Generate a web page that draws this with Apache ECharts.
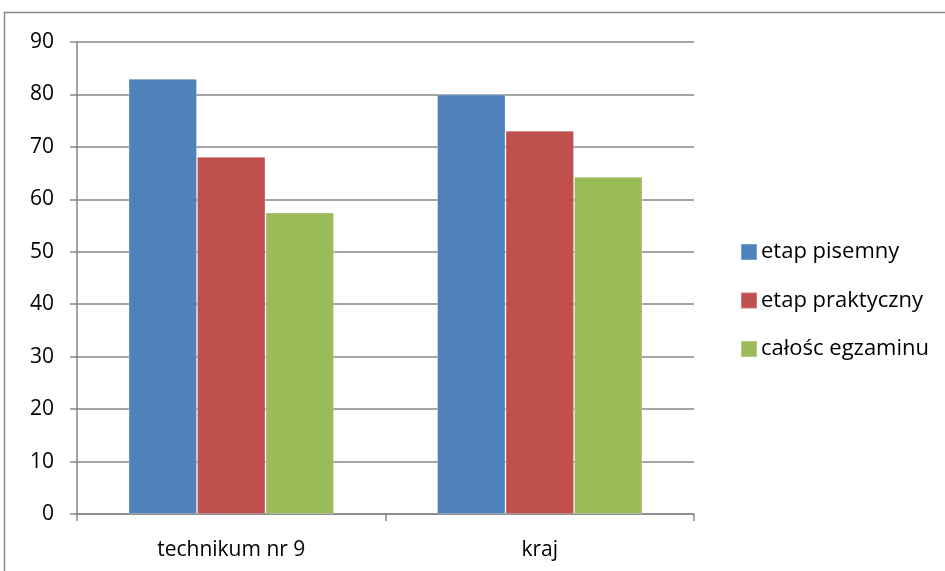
<!DOCTYPE html>
<html><head><meta charset="utf-8">
<script src="https://cdn.jsdelivr.net/npm/echarts@6/dist/echarts.min.js"></script>
<style>html,body{margin:0;padding:0;background:#fff}#c{width:945px;height:571px}</style>
</head><body><div id="c"></div>
<script>
const categories = ['technikum nr 9', 'kraj'];
const seriesNames = ['etap pisemny', 'etap praktyczny', 'całośc egzaminu'];
const pisemny = [83, 80];
const praktyczny = [68.1, 73.1];
const calosc = [57.5, 64.3];
const colors = ['#4F81BD', '#C0504D', '#9BBB59'];
const values = [pisemny, praktyczny, calosc];
const FONT = '"Open Sans", "Noto Sans", sans-serif';

const chart = echarts.init(document.getElementById('c'), null, {renderer: 'canvas'});
chart.setOption({
  animation: false,
  backgroundColor: '#fff',
  graphic: [{type: 'rect', shape: {x: 4.5, y: 12.5, width: 1000, height: 700}, style: {fill: 'none', stroke: '#868686', lineWidth: 1.5}, z: -1}],
  grid: {left: 77, right: 251, top: 42, bottom: 57},
  legend: {
    orient: 'vertical', left: 735, top: 236, itemWidth: 16, itemHeight: 16, itemGap: 26.5,
    icon: 'rect',
    textStyle: {fontFamily: FONT, fontSize: 22, color: '#000', padding: [0, 0, 0, -1]},
    data: seriesNames
  },
  xAxis: {
    type: 'category', data: categories,
    axisLine: {lineStyle: {color: '#868686', width: 1.5}},
    axisTick: {show: true, length: 7, lineStyle: {color: '#868686', width: 1.5}},
    axisLabel: {fontFamily: FONT, fontSize: 21, color: '#000', margin: 26}
  },
  yAxis: {
    type: 'value', min: 0, max: 90, interval: 10,
    axisLine: {show: true, lineStyle: {color: '#868686', width: 1.5}},
    axisTick: {show: true, length: 7, lineStyle: {color: '#868686', width: 1.5}},
    splitLine: {lineStyle: {color: '#868686', width: 1.5}},
    axisLabel: {fontFamily: FONT, fontSize: 21, color: '#000', margin: 23}
  },
  series: seriesNames.map((n, i) => ({
    name: n, type: 'bar', data: values[i],
    barGap: '0%', barCategoryGap: '33.4%',
    itemStyle: {color: colors[i], borderColor: 'rgba(255,255,255,0.25)', borderWidth: 1}
  }))
});
</script></body></html>
